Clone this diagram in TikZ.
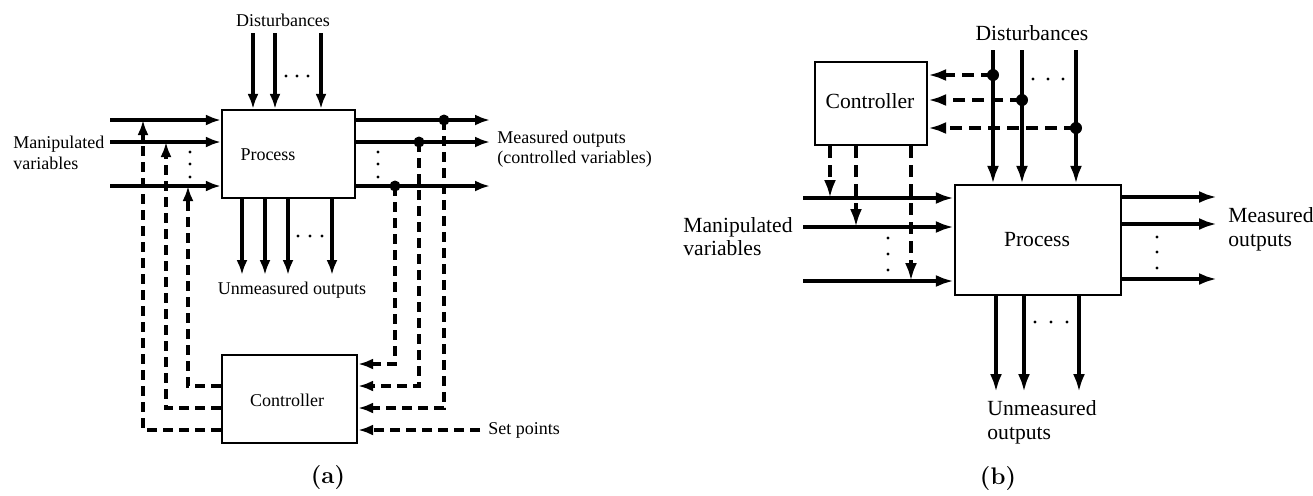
\documentclass[tikz,border=0pt]{standalone}
\usepackage{fontspec}
\newfontfamily\ser{Liberation Serif}
\usetikzlibrary{arrows.meta}
\begin{document}
\begin{tikzpicture}[x=0.5pt,y=-0.5pt,
  box/.style={draw,line width=1.1pt,inner sep=0pt},
  sigA/.style={line width=1.8pt,-{Latex[length=7.5pt,width=5.5pt]}},
  fbA/.style={sigA,line width=2pt,dash pattern=on 5pt off 3pt},
  sigB/.style={line width=1.9pt,-{Latex[length=9pt,width=6pt]}},
  fbB/.style={sigB,line width=2.1pt,dash pattern=on 6pt off 3.5pt},
  txA/.style={font=\ser\fontsize{9}{10.5}\selectfont,inner sep=0pt},
  txB/.style={font=\ser\fontsize{10.8}{12}\selectfont,inner sep=0pt},
  capt/.style={font=\fontsize{12}{14}\selectfont\bfseries,inner sep=0pt},
  jdot/.style={circle,fill,inner sep=0pt,minimum size=5.5pt},
  edot/.style={circle,fill,inner sep=0pt,minimum size=1.7pt}
]
\useasboundingbox (0,0) rectangle (1313,495);

% ================= (a) =================
\node[box,minimum width=66.5pt,minimum height=44pt] (procA) at (288.5,154) {};
\node[txA] (procAt) at (268,155) {Process};
\node[box,minimum width=67.5pt,minimum height=44pt] (contA) at (289.5,399) {};
\node[txA] (contAt) at (287,400) {Controller};
\node[txA] (distA) at (283,20) {Disturbances};
\node[txA] (unA) at (292,290) {Unmeasured outputs};
\node[txA,align=left,anchor=west] (manA) at (13,153) {Manipulated\\variables};
\node[txA,align=left,anchor=west,font=\ser\fontsize{9}{10}\selectfont] (measA) at (497,149) {Measured outputs\\(controlled variables)};
\node[txA,anchor=west] (spA) at (488,430) {Set points};
\node[capt] (capA) at (328,477) {(a)};

% disturbances
\coordinate (dA1) at (253,33);
\coordinate (dA2) at (275,33);
\coordinate (dA3) at (321,33);
\foreach \i in {1,2,3} {\draw[sigA] (dA\i) -- (dA\i |- procA.north);}
\foreach \x in {286,297,308} {\node[edot] at (\x,76) {};}

% manipulated inputs
\coordinate (inA1) at (110,120);
\coordinate (inA2) at (110,142);
\coordinate (inA3) at (110,186);
\foreach \i in {1,2,3} {\draw[sigA] (inA\i) -- (inA\i -| procA.west);}
\foreach \y in {152,164,177} {\node[edot] at (190,\y) {};}

% controller -> inputs (dashed)
\coordinate (fA1) at (188,386);
\coordinate (fA2) at (166,408);
\coordinate (fA3) at (143,430);
\draw[fbA] (fA1 -| contA.west) -- (fA1) -- (fA1 |- inA3);
\draw[fbA] (fA2 -| contA.west) -- (fA2) -- (fA2 |- inA2);
\draw[fbA] (fA3 -| contA.west) -- (fA3) -- (fA3 |- inA1);

% measured outputs
\coordinate (outA1) at (490,120);
\coordinate (outA2) at (490,142);
\coordinate (outA3) at (490,186);
\foreach \i in {1,2,3} {\draw[sigA] (outA\i -| procA.east) -- (outA\i);}
\foreach \y in {152,164,177} {\node[edot] at (378,\y) {};}
\node[jdot] (jA1) at (444,120) {};
\node[jdot] (jA2) at (419,142) {};
\node[jdot] (jA3) at (395,186) {};
\coordinate (mA1) at (444,408);
\coordinate (mA2) at (419,386);
\coordinate (mA3) at (395,364);
\draw[fbA] (jA1.center) -- (mA1) -- (mA1 -| contA.east);
\draw[fbA] (jA2.center) -- (mA2) -- (mA2 -| contA.east);
\draw[fbA] (jA3.center) -- (mA3) -- (mA3 -| contA.east);
\coordinate (spAe) at (480,430);
\draw[fbA] (spAe) -- (spAe -| contA.east);

% unmeasured outputs
\coordinate (uA1) at (242,275);
\coordinate (uA2) at (265,275);
\coordinate (uA3) at (288,275);
\coordinate (uA4) at (332,275);
\foreach \i in {1,2,3,4} {\draw[sigA] (uA\i |- procA.south) -- (uA\i);}
\foreach \x in {298,310,322} {\node[edot] at (\x,236) {};}

% ================= (b) =================
\node[box,minimum width=56pt,minimum height=41.5pt] (contB) at (871,103.5) {};
\node[txB] (contBt) at (870,101) {Controller};
\node[box,minimum width=83pt,minimum height=55pt] (procB) at (1038,240) {};
\node[txB] (procBt) at (1037,240) {Process};
\node[txB] (distB) at (1032,33) {Disturbances};
\node[txB,align=left,anchor=east,font=\ser\fontsize{10.8}{11.5}\selectfont] (manB) at (793,237) {Manipulated\\variables};
\node[txB,align=left,anchor=west] (measB) at (1228,229) {Measured\\outputs};
\node[txB,align=left,anchor=west] (unB) at (987,422) {Unmeasured\\outputs};
\node[capt] (capB) at (998,478) {(b)};

% disturbances
\coordinate (dB1) at (993,50);
\coordinate (dB2) at (1022,50);
\coordinate (dB3) at (1076,50);
\foreach \i in {1,2,3} {\draw[sigB] (dB\i) -- (dB\i |- procB.north);}
\foreach \x in {1033,1048,1063} {\node[edot] at (\x,79) {};}
\node[jdot,minimum size=6pt] (jB1) at (993,75) {};
\node[jdot,minimum size=6pt] (jB2) at (1022,100) {};
\node[jdot,minimum size=6pt] (jB3) at (1076,128) {};
\foreach \i in {1,2,3} {\draw[fbB] (jB\i.center) -- (jB\i -| contB.east);}

% manipulated inputs
\coordinate (inB1) at (803,198);
\coordinate (inB2) at (803,227);
\coordinate (inB3) at (803,281);
\foreach \i in {1,2,3} {\draw[sigB] (inB\i) -- (inB\i -| procB.west);}
\foreach \y in {238,254,270} {\node[edot] at (888,\y) {};}
\coordinate (cB1) at (830,198);
\coordinate (cB2) at (856,227);
\coordinate (cB3) at (911,281);
\foreach \i in {1,2,3} {\draw[fbB] (cB\i |- contB.south) -- (cB\i);}

% measured outputs
\coordinate (outB1) at (1217,197);
\coordinate (outB2) at (1217,224);
\coordinate (outB3) at (1217,279);
\foreach \i in {1,2,3} {\draw[sigB] (outB\i -| procB.east) -- (outB\i);}
\foreach \y in {237,252,268} {\node[edot] at (1157,\y) {};}

% unmeasured outputs
\coordinate (uB1) at (996,392);
\coordinate (uB2) at (1024,392);
\coordinate (uB3) at (1079,392);
\foreach \i in {1,2,3} {\draw[sigB] (uB\i |- procB.south) -- (uB\i);}
\foreach \x in {1035,1051,1067} {\node[edot] at (\x,322) {};}
\end{tikzpicture}
\end{document}
